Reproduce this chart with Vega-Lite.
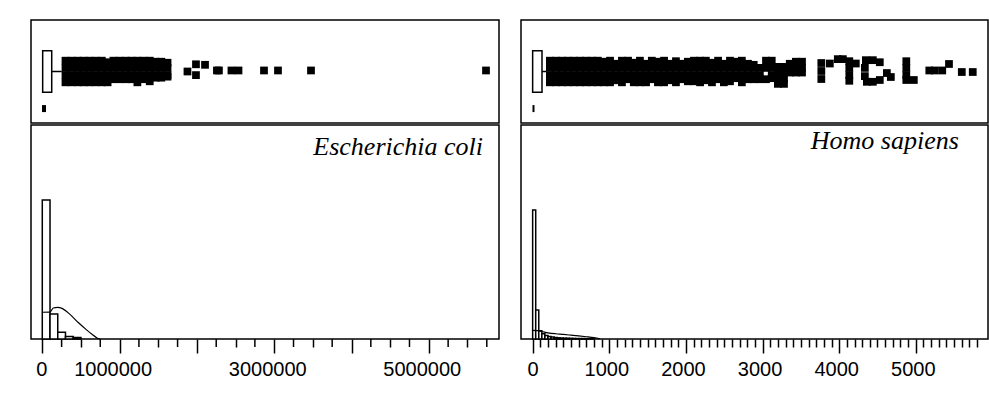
{
  "$schema": "https://vega.github.io/schema/vega-lite/v6.json",
  "background": "white",
  "padding": {"left": 30, "top": 19, "right": 0, "bottom": 0},
  "config": {
    "view": {"stroke": "black", "strokeWidth": 1.5},
    "concat": {"spacing": 0}
  },
  "datasets": {
    "ecoli_box": [{"q1": 5000, "q3": 122000, "whisker": 251000, "center": 22000}],
    "human_box": [{"q1": 0, "q3": 122, "whisker": 174, "center": 11}],
    "ecoli_label": [{"species": "Escherichia coli", "x": 5701000, "y": 85.8}],
    "human_label": [{"species": "Homo sapiens", "x": 5561, "y": 88.6}],
    "ecoli_minor_ticks": [
      {"v": 250000}, {"v": 750000}, {"v": 1250000}, {"v": 1750000}, {"v": 2250000}, {"v": 2750000},
      {"v": 3250000}, {"v": 3750000}, {"v": 4250000}, {"v": 4750000}, {"v": 5250000}, {"v": 5750000}
    ],
    "ecoli_out": [
      {"v": 300000, "j": 0.21}, {"v": 300000, "j": 0.07}, {"v": 300000, "j": -0.07}, {"v": 300000, "j": -0.21},
      {"v": 380000, "j": 0.21}, {"v": 380000, "j": 0.07}, {"v": 380000, "j": -0.07}, {"v": 380000, "j": -0.21},
      {"v": 460000, "j": 0.21}, {"v": 460000, "j": 0.07}, {"v": 460000, "j": -0.07}, {"v": 460000, "j": -0.21},
      {"v": 535000, "j": 0.21}, {"v": 535000, "j": 0.07}, {"v": 535000, "j": -0.07}, {"v": 535000, "j": -0.21},
      {"v": 610000, "j": 0.21}, {"v": 610000, "j": 0.07}, {"v": 610000, "j": -0.07}, {"v": 610000, "j": -0.21},
      {"v": 690000, "j": 0.21}, {"v": 690000, "j": 0.07}, {"v": 690000, "j": -0.07}, {"v": 690000, "j": -0.21},
      {"v": 770000, "j": 0.21}, {"v": 770000, "j": 0.07}, {"v": 770000, "j": -0.07}, {"v": 770000, "j": -0.21},
      {"v": 845000, "j": 0.18}, {"v": 845000, "j": 0.07}, {"v": 845000, "j": -0.07}, {"v": 845000, "j": -0.21},
      {"v": 920000, "j": 0.21}, {"v": 920000, "j": 0.07}, {"v": 920000, "j": -0.07}, {"v": 920000, "j": -0.15},
      {"v": 1000000, "j": 0.21}, {"v": 1000000, "j": 0.07}, {"v": 1000000, "j": -0.07}, {"v": 1000000, "j": -0.15},
      {"v": 1080000, "j": 0.21}, {"v": 1080000, "j": 0.07}, {"v": 1080000, "j": -0.07}, {"v": 1080000, "j": -0.15},
      {"v": 1155000, "j": 0.21}, {"v": 1155000, "j": 0.07}, {"v": 1155000, "j": -0.07}, {"v": 1155000, "j": -0.15},
      {"v": 1230000, "j": 0.21}, {"v": 1230000, "j": 0.07}, {"v": 1230000, "j": -0.07}, {"v": 1230000, "j": -0.21},
      {"v": 1310000, "j": 0.21}, {"v": 1310000, "j": 0.07}, {"v": 1310000, "j": -0.07}, {"v": 1310000, "j": -0.15},
      {"v": 1390000, "j": 0.21}, {"v": 1390000, "j": 0.07}, {"v": 1390000, "j": -0.07}, {"v": 1390000, "j": -0.19},
      {"v": 1465000, "j": 0.19}, {"v": 1465000, "j": 0.07}, {"v": 1465000, "j": -0.07}, {"v": 1465000, "j": -0.12},
      {"v": 1540000, "j": 0.19}, {"v": 1540000, "j": 0.07}, {"v": 1540000, "j": -0.07}, {"v": 1540000, "j": -0.12},
      {"v": 1620000, "j": 0.17}, {"v": 1620000, "j": 0.07}, {"v": 1620000, "j": -0.07}, {"v": 1620000, "j": -0.1},
      {"v": 1878000, "j": 0.0},
      {"v": 1988000, "j": 0.14}, {"v": 1988000, "j": -0.07},
      {"v": 2105000, "j": 0.13},
      {"v": 2259000, "j": 0.02}, {"v": 2285000, "j": 0.02},
      {"v": 2447000, "j": 0.02}, {"v": 2538000, "j": 0.02},
      {"v": 2868000, "j": 0.02},
      {"v": 3049000, "j": 0.02},
      {"v": 3476000, "j": 0.02},
      {"v": 5740000, "j": 0.02}
    ],
    "human_out": [
      {"v": 225, "j": 0.21}, {"v": 225, "j": 0.07}, {"v": 225, "j": -0.07}, {"v": 225, "j": -0.21},
      {"v": 305, "j": 0.21}, {"v": 305, "j": 0.07}, {"v": 305, "j": -0.07}, {"v": 305, "j": -0.21},
      {"v": 385, "j": 0.21}, {"v": 385, "j": 0.07}, {"v": 385, "j": -0.07}, {"v": 385, "j": -0.21},
      {"v": 460, "j": 0.21}, {"v": 460, "j": 0.07}, {"v": 460, "j": -0.07}, {"v": 460, "j": -0.21},
      {"v": 540, "j": 0.21}, {"v": 540, "j": 0.07}, {"v": 540, "j": -0.07}, {"v": 540, "j": -0.21},
      {"v": 620, "j": 0.21}, {"v": 620, "j": 0.07}, {"v": 620, "j": -0.07}, {"v": 620, "j": -0.21},
      {"v": 695, "j": 0.21}, {"v": 695, "j": 0.07}, {"v": 695, "j": -0.07}, {"v": 695, "j": -0.21},
      {"v": 775, "j": 0.21}, {"v": 775, "j": 0.07}, {"v": 775, "j": -0.07}, {"v": 775, "j": -0.21},
      {"v": 850, "j": 0.21}, {"v": 850, "j": 0.07}, {"v": 850, "j": -0.07}, {"v": 850, "j": -0.21},
      {"v": 930, "j": 0.19}, {"v": 930, "j": 0.07}, {"v": 930, "j": -0.07}, {"v": 930, "j": -0.21},
      {"v": 1010, "j": 0.21}, {"v": 1010, "j": 0.07}, {"v": 1010, "j": -0.07}, {"v": 1010, "j": -0.21},
      {"v": 1085, "j": 0.15}, {"v": 1085, "j": 0.07}, {"v": 1085, "j": -0.07}, {"v": 1085, "j": -0.17},
      {"v": 1165, "j": 0.21}, {"v": 1165, "j": 0.07}, {"v": 1165, "j": -0.07}, {"v": 1165, "j": -0.21},
      {"v": 1245, "j": 0.21}, {"v": 1245, "j": 0.07}, {"v": 1245, "j": -0.07}, {"v": 1245, "j": -0.15},
      {"v": 1320, "j": 0.17}, {"v": 1320, "j": 0.07}, {"v": 1320, "j": -0.07}, {"v": 1320, "j": -0.21},
      {"v": 1400, "j": 0.21}, {"v": 1400, "j": 0.07}, {"v": 1400, "j": -0.07}, {"v": 1400, "j": -0.21},
      {"v": 1480, "j": 0.15}, {"v": 1480, "j": 0.07}, {"v": 1480, "j": -0.07}, {"v": 1480, "j": -0.21},
      {"v": 1555, "j": 0.21}, {"v": 1555, "j": 0.07}, {"v": 1555, "j": -0.07}, {"v": 1555, "j": -0.15},
      {"v": 1635, "j": 0.19}, {"v": 1635, "j": 0.07}, {"v": 1635, "j": -0.07}, {"v": 1635, "j": -0.21},
      {"v": 1715, "j": 0.21}, {"v": 1715, "j": 0.07}, {"v": 1715, "j": -0.07}, {"v": 1715, "j": -0.21},
      {"v": 1790, "j": 0.15}, {"v": 1790, "j": 0.07}, {"v": 1790, "j": -0.07}, {"v": 1790, "j": -0.17},
      {"v": 1870, "j": 0.2}, {"v": 1870, "j": 0.07}, {"v": 1870, "j": -0.07}, {"v": 1870, "j": -0.21},
      {"v": 1950, "j": 0.15}, {"v": 1950, "j": 0.07}, {"v": 1950, "j": -0.07}, {"v": 1950, "j": -0.15},
      {"v": 2025, "j": 0.19}, {"v": 2025, "j": 0.07}, {"v": 2025, "j": -0.07}, {"v": 2025, "j": -0.19},
      {"v": 2105, "j": 0.21}, {"v": 2105, "j": 0.07}, {"v": 2105, "j": -0.07}, {"v": 2105, "j": -0.19},
      {"v": 2185, "j": 0.21}, {"v": 2185, "j": 0.07}, {"v": 2185, "j": -0.07}, {"v": 2185, "j": -0.21},
      {"v": 2260, "j": 0.21}, {"v": 2260, "j": 0.07}, {"v": 2260, "j": -0.07}, {"v": 2260, "j": -0.17},
      {"v": 2340, "j": 0.17}, {"v": 2340, "j": 0.07}, {"v": 2340, "j": -0.07}, {"v": 2340, "j": -0.21},
      {"v": 2420, "j": 0.21}, {"v": 2420, "j": 0.07}, {"v": 2420, "j": -0.07}, {"v": 2420, "j": -0.15},
      {"v": 2495, "j": 0.15}, {"v": 2495, "j": 0.07}, {"v": 2495, "j": -0.07}, {"v": 2495, "j": -0.21},
      {"v": 2575, "j": 0.21}, {"v": 2575, "j": 0.07}, {"v": 2575, "j": -0.07}, {"v": 2575, "j": -0.19},
      {"v": 2650, "j": 0.19}, {"v": 2650, "j": 0.07}, {"v": 2650, "j": -0.07}, {"v": 2650, "j": -0.13},
      {"v": 2730, "j": 0.21}, {"v": 2730, "j": 0.07}, {"v": 2730, "j": -0.07}, {"v": 2730, "j": -0.21},
      {"v": 2810, "j": 0.15}, {"v": 2810, "j": 0.07}, {"v": 2810, "j": -0.07}, {"v": 2810, "j": -0.15},
      {"v": 2885, "j": 0.13}, {"v": 2885, "j": 0.07}, {"v": 2885, "j": -0.07}, {"v": 2885, "j": -0.15},
      {"v": 2965, "j": 0.07}, {"v": 2965, "j": -0.07}, {"v": 2965, "j": -0.15},
      {"v": 3045, "j": 0.21}, {"v": 3045, "j": 0.07}, {"v": 3045, "j": -0.15},
      {"v": 3120, "j": 0.21}, {"v": 3120, "j": 0.07}, {"v": 3120, "j": -0.07}, {"v": 3120, "j": -0.13},
      {"v": 3200, "j": 0.09}, {"v": 3200, "j": -0.02}, {"v": 3200, "j": -0.13}, {"v": 3200, "j": -0.24},
      {"v": 3280, "j": 0.09}, {"v": 3280, "j": -0.02}, {"v": 3280, "j": -0.13}, {"v": 3280, "j": -0.24},
      {"v": 3355, "j": 0.15}, {"v": 3355, "j": 0.07}, {"v": 3355, "j": -0.02},
      {"v": 3435, "j": 0.19}, {"v": 3435, "j": 0.07}, {"v": 3435, "j": -0.02},
      {"v": 3515, "j": 0.19}, {"v": 3515, "j": 0.07}, {"v": 3515, "j": -0.02},
      {"v": 3767, "j": 0.165}, {"v": 3767, "j": 0.01}, {"v": 3767, "j": -0.146},
      {"v": 3878, "j": 0.155},
      {"v": 3982, "j": 0.24}, {"v": 4048, "j": 0.24},
      {"v": 4132, "j": 0.2}, {"v": 4132, "j": 0.07}, {"v": 4132, "j": -0.07}, {"v": 4132, "j": -0.18},
      {"v": 4217, "j": 0.155},
      {"v": 4348, "j": 0.22}, {"v": 4439, "j": 0.22}, {"v": 4530, "j": 0.18},
      {"v": 4335, "j": 0.07}, {"v": 4335, "j": -0.09}, {"v": 4361, "j": -0.2},
      {"v": 4439, "j": -0.2}, {"v": 4530, "j": -0.165},
      {"v": 4622, "j": -0.03}, {"v": 4674, "j": -0.107},
      {"v": 4876, "j": 0.2}, {"v": 4876, "j": 0.07}, {"v": 4876, "j": -0.07}, {"v": 4876, "j": -0.165},
      {"v": 4974, "j": -0.165},
      {"v": 5176, "j": 0.02}, {"v": 5248, "j": 0.02}, {"v": 5345, "j": 0.02},
      {"v": 5433, "j": 0.146},
      {"v": 5600, "j": -0.01}, {"v": 5743, "j": -0.01}
    ],
    "ecoli_hist": [
      {"start": 0, "end": 100000, "h": 65},
      {"start": 100000, "end": 200000, "h": 11.7},
      {"start": 200000, "end": 300000, "h": 3.1},
      {"start": 300000, "end": 400000, "h": 1.2},
      {"start": 400000, "end": 500000, "h": 0.7}
    ],
    "human_hist": [
      {"start": 0, "end": 40, "h": 60.3},
      {"start": 40, "end": 80, "h": 13.5},
      {"start": 80, "end": 120, "h": 3.9},
      {"start": 120, "end": 160, "h": 2.4},
      {"start": 160, "end": 200, "h": 1.6},
      {"start": 200, "end": 240, "h": 1.2},
      {"start": 240, "end": 280, "h": 0.9},
      {"start": 280, "end": 320, "h": 0.7},
      {"start": 320, "end": 360, "h": 0.55},
      {"start": 360, "end": 400, "h": 0.45},
      {"start": 400, "end": 440, "h": 0.4},
      {"start": 440, "end": 480, "h": 0.35},
      {"start": 480, "end": 520, "h": 0.3},
      {"start": 520, "end": 560, "h": 0.25},
      {"start": 560, "end": 600, "h": 0.2},
      {"start": 600, "end": 640, "h": 0.2},
      {"start": 640, "end": 680, "h": 0.2},
      {"start": 680, "end": 720, "h": 0.15},
      {"start": 720, "end": 760, "h": 0.15},
      {"start": 760, "end": 800, "h": 0.1}
    ],
    "ecoli_density": [
      {"v": 0, "d": 12.5}, {"v": 100000, "d": 12.6}, {"v": 142000, "d": 14.5},
      {"v": 203000, "d": 14.8}, {"v": 255000, "d": 14.3}, {"v": 358000, "d": 11.5},
      {"v": 462000, "d": 7.8}, {"v": 565000, "d": 4.5}, {"v": 643000, "d": 2.2},
      {"v": 708000, "d": 0.5}, {"v": 746000, "d": 0}
    ],
    "human_density": [
      {"v": 0, "d": 4.0}, {"v": 60, "d": 3.9}, {"v": 120, "d": 3.5}, {"v": 200, "d": 2.9},
      {"v": 300, "d": 2.45}, {"v": 400, "d": 2.15}, {"v": 500, "d": 1.8}, {"v": 600, "d": 1.45},
      {"v": 700, "d": 1.05}, {"v": 800, "d": 0.6}, {"v": 880, "d": 0.1}
    ]
  },
  "hconcat": [
    {
      "vconcat": [
        {
          "width": 468,
          "height": 103,
          "layer": [
            {
              "data": {"name": "ecoli_box"},
              "mark": {"type": "rule", "color": "black", "strokeWidth": 1.5},
              "encoding": {
                "x": {"field": "q3", "type": "quantitative", "scale": {"domain": [-146000, 5908000]}, "axis": null},
                "x2": {"field": "whisker"},
                "y": {"datum": 0, "type": "quantitative", "scale": {"domain": [-1, 1]}, "axis": null}
              }
            },
            {
              "data": {"name": "ecoli_box"},
              "mark": {"type": "rect", "fill": "white", "stroke": "black", "strokeWidth": 1.5},
              "encoding": {
                "x": {"field": "q1", "type": "quantitative", "scale": {"domain": [-146000, 5908000]}, "axis": null},
                "x2": {"field": "q3"},
                "y": {"datum": -0.404, "type": "quantitative", "scale": {"domain": [-1, 1]}, "axis": null},
                "y2": {"datum": 0.404}
              }
            },
            {
              "data": {"name": "ecoli_box"},
              "mark": {"type": "tick", "orient": "vertical", "thickness": 4, "size": 7, "color": "black", "opacity": 1},
              "encoding": {
                "x": {"field": "center", "type": "quantitative", "scale": {"domain": [-146000, 5908000]}, "axis": null},
                "y": {"datum": -0.72, "type": "quantitative", "scale": {"domain": [-1, 1]}, "axis": null}
              }
            },
            {
              "data": {"name": "ecoli_out"},
              "mark": {"type": "square", "size": 60, "color": "black", "filled": true, "opacity": 1, "strokeWidth": 0},
              "encoding": {
                "x": {"field": "v", "type": "quantitative", "scale": {"domain": [-146000, 5908000]}, "axis": null},
                "y": {"field": "j", "type": "quantitative", "scale": {"domain": [-1, 1]}, "axis": null}
              }
            }
          ]
        },
        {
          "width": 468,
          "height": 214,
          "encoding": {
            "x": {
              "type": "quantitative",
              "scale": {"domain": [-146000, 5908000]},
              "axis": {
                "values": [0, 500000, 1000000, 1500000, 2000000, 2500000, 3000000, 3500000, 4000000, 4500000, 5000000, 5500000],
                "title": null,
                "domain": false,
                "grid": false,
                "tickColor": "black",
                "tickWidth": 1.5,
                "tickSize": {"condition": {"test": "datum.value % 1000000 == 0", "value": 14}, "value": 8},
                "labelExpr": "(datum.value == 0 || datum.value == 1000000 || datum.value == 3000000 || datum.value == 5000000) ? format(datum.value, 'd') : ''",
                "labelFont": "Liberation Sans",
                "labelFontSize": 20,
                "labelColor": "black",
                "labelBaseline": "alphabetic",
                "labelPadding": 22,
                "labelOffset": {"condition": {"test": "datum.value == 0", "value": -1}, "value": -7},
                "labelOverlap": false,
                "labelFlush": false,
                "labelBound": false
              }
            },
            "y": {"type": "quantitative", "scale": {"domain": [0, 100]}, "axis": null}
          },
          "layer": [
            {
              "data": {"name": "ecoli_hist"},
              "mark": {"type": "rect", "fill": "white", "stroke": "black", "strokeWidth": 1.5},
              "encoding": {
                "x": {"field": "start"},
                "x2": {"field": "end"},
                "y": {"field": "h"},
                "y2": {"datum": 0}
              }
            },
            {
              "data": {"name": "ecoli_density"},
              "mark": {"type": "line", "color": "black", "strokeWidth": 1.2, "interpolate": "monotone"},
              "encoding": {
                "x": {"field": "v"},
                "y": {"field": "d"}
              }
            },
            {
              "data": {"name": "ecoli_minor_ticks"},
              "mark": {"type": "rule", "color": "black", "strokeWidth": 1.5, "clip": false},
              "encoding": {
                "x": {"field": "v"},
                "y": {"datum": 0},
                "y2": {"datum": -3.74}
              }
            },
            {
              "data": {"name": "ecoli_label"},
              "mark": {"type": "text", "align": "right", "baseline": "alphabetic", "font": "Liberation Serif", "fontStyle": "italic", "fontSize": 26, "color": "black"},
              "encoding": {
                "x": {"field": "x"},
                "y": {"field": "y"},
                "text": {"field": "species"}
              }
            }
          ]
        }
      ]
    },
    {
      "vconcat": [
        {
          "width": 467,
          "height": 103,
          "layer": [
            {
              "data": {"name": "human_box"},
              "mark": {"type": "rule", "color": "black", "strokeWidth": 1.5},
              "encoding": {
                "x": {"field": "q3", "type": "quantitative", "scale": {"domain": [-152, 5942]}, "axis": null},
                "x2": {"field": "whisker"},
                "y": {"datum": 0, "type": "quantitative", "scale": {"domain": [-1, 1]}, "axis": null}
              }
            },
            {
              "data": {"name": "human_box"},
              "mark": {"type": "rect", "fill": "white", "stroke": "black", "strokeWidth": 1.5},
              "encoding": {
                "x": {"field": "q1", "type": "quantitative", "scale": {"domain": [-152, 5942]}, "axis": null},
                "x2": {"field": "q3"},
                "y": {"datum": -0.404, "type": "quantitative", "scale": {"domain": [-1, 1]}, "axis": null},
                "y2": {"datum": 0.404}
              }
            },
            {
              "data": {"name": "human_box"},
              "mark": {"type": "tick", "orient": "vertical", "thickness": 2, "size": 7, "color": "black", "opacity": 1},
              "encoding": {
                "x": {"field": "center", "type": "quantitative", "scale": {"domain": [-152, 5942]}, "axis": null},
                "y": {"datum": -0.72, "type": "quantitative", "scale": {"domain": [-1, 1]}, "axis": null}
              }
            },
            {
              "data": {"name": "human_out"},
              "mark": {"type": "square", "size": 60, "color": "black", "filled": true, "opacity": 1, "strokeWidth": 0},
              "encoding": {
                "x": {"field": "v", "type": "quantitative", "scale": {"domain": [-152, 5942]}, "axis": null},
                "y": {"field": "j", "type": "quantitative", "scale": {"domain": [-1, 1]}, "axis": null}
              }
            }
          ]
        },
        {
          "width": 467,
          "height": 214,
          "encoding": {
            "x": {
              "type": "quantitative",
              "scale": {"domain": [-152, 5942]},
              "axis": {
                "values": [0, 100, 200, 300, 400, 500, 600, 700, 800, 900, 1000, 1100, 1200, 1300, 1400, 1500, 1600, 1700, 1800, 1900, 2000, 2100, 2200, 2300, 2400, 2500, 2600, 2700, 2800, 2900, 3000, 3100, 3200, 3300, 3400, 3500, 3600, 3700, 3800, 3900, 4000, 4100, 4200, 4300, 4400, 4500, 4600, 4700, 4800, 4900, 5000, 5100, 5200, 5300, 5400, 5500, 5600, 5700, 5800],
                "tickCount": 100,
                "title": null,
                "domain": false,
                "grid": false,
                "tickColor": "black",
                "tickWidth": 1.5,
                "tickSize": {"condition": {"test": "datum.value % 1000 == 0", "value": 14}, "value": 8},
                "labelExpr": "datum.value % 1000 == 0 ? format(datum.value, 'd') : ''",
                "labelFont": "Liberation Sans",
                "labelFontSize": 20,
                "labelColor": "black",
                "labelBaseline": "alphabetic",
                "labelPadding": 22,
                "labelOffset": {"condition": {"test": "datum.value == 0", "value": 0}, "value": -3},
                "labelOverlap": false,
                "labelFlush": false,
                "labelBound": false
              }
            },
            "y": {"type": "quantitative", "scale": {"domain": [0, 100]}, "axis": null}
          },
          "layer": [
            {
              "data": {"name": "human_hist"},
              "mark": {"type": "rect", "fill": "white", "stroke": "black", "strokeWidth": 1.5},
              "encoding": {
                "x": {"field": "start"},
                "x2": {"field": "end"},
                "y": {"field": "h"},
                "y2": {"datum": 0}
              }
            },
            {
              "data": {"name": "human_density"},
              "mark": {"type": "line", "color": "black", "strokeWidth": 1.2, "interpolate": "monotone"},
              "encoding": {
                "x": {"field": "v"},
                "y": {"field": "d"}
              }
            },
            {
              "data": {"name": "human_label"},
              "mark": {"type": "text", "align": "right", "baseline": "alphabetic", "font": "Liberation Serif", "fontStyle": "italic", "fontSize": 26, "color": "black"},
              "encoding": {
                "x": {"field": "x"},
                "y": {"field": "y"},
                "text": {"field": "species"}
              }
            }
          ]
        }
      ]
    }
  ],
  "spacing": 20
}
